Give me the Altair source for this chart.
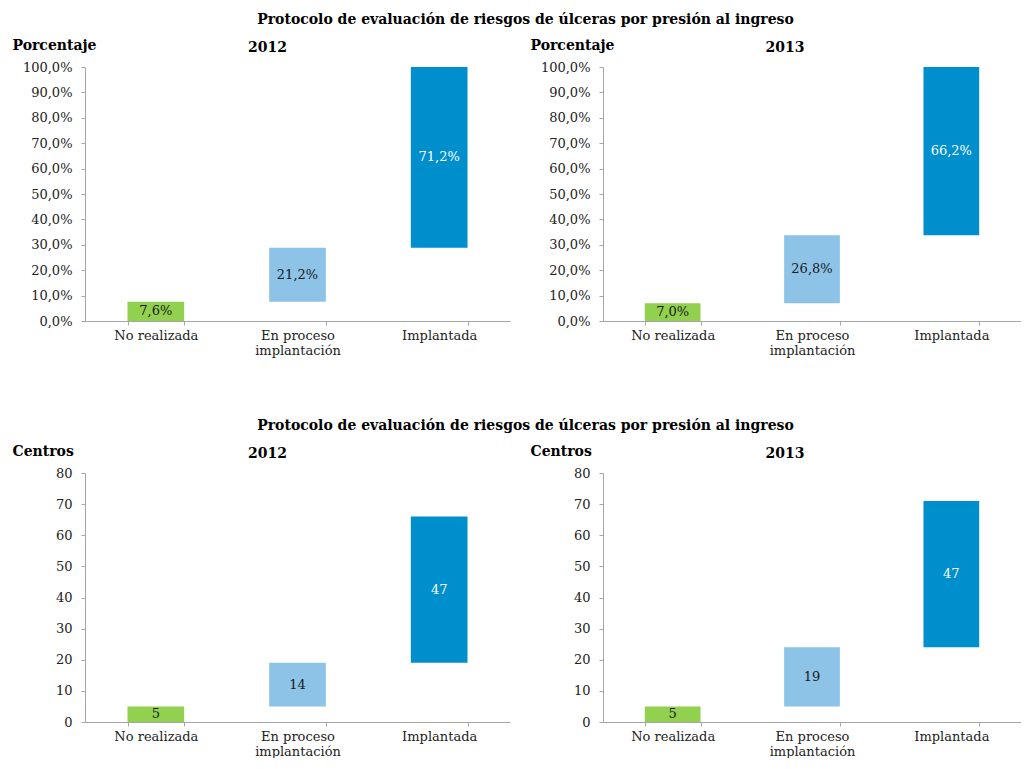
import altair as alt
import pandas as pd

categories = ["No realizada", "En proceso implantación", "Implantada"]
colors = ["#92d050", "#8cc3e7", "#008fcd"]
text_colors = ["#1a1a1a", "#1a1a1a", "#ffffff"]

pct_2012 = [7.6, 21.2, 71.2]
pct_2013 = [7.0, 26.8, 66.2]
n_2012 = [5, 14, 47]
n_2013 = [5, 19, 47]

FONT = "DejaVu Serif"
MAIN_TITLE = "Protocolo de evaluación de riesgos de úlceras por presión al ingreso"


def make_df(values, pct):
    rows = []
    start = 0.0
    for c, v, tc in zip(categories, values, text_colors):
        end = start + v
        lab = (f"{v:.1f}".replace(".", ",") + "%") if pct else str(v)
        rows.append({"cat": c, "start": start, "end": end, "mid": (start + end) / 2,
                     "label": lab, "tc": tc})
        start = end
    return pd.DataFrame(rows)


def panel(values, pct, year, ytitle, width, height, dx):
    df = make_df(values, pct)
    if pct:
        ymax, step = 100, 10
        lab_expr = "replace(format(datum.value, '.1f'), '.', ',') + '%'"
    else:
        ymax, step = 80, 10
        lab_expr = "format(datum.value, 'd')"
    xscale = alt.Scale(paddingInner=0.6, paddingOuter=0.3)
    yscale = alt.Scale(domain=[0, ymax], nice=False)
    xaxis = alt.Axis(
        labelAngle=0, labelFont=FONT, labelFontSize=13, labelColor="#222222",
        labelPadding=4, labelLineHeight=15,
        labelExpr="datum.label == 'En proceso implantación' ? ['En proceso', 'implantación'] : datum.label",
        tickBand="extent", tickSize=4, tickColor="#a6a6a6",
        domainColor="#a6a6a6", grid=False,
    )
    yaxis = alt.Axis(
        values=list(range(0, ymax + 1, step)), labelExpr=lab_expr, labelOverlap=False,
        labelFont=FONT, labelFontSize=13, labelColor="#222222", labelPadding=9,
        tickSize=4, tickColor="#a6a6a6", domainColor="#a6a6a6", grid=False,
        title=ytitle, titleAngle=0, titleAlign="left", titleBaseline="alphabetic",
        titleX=-73, titleY=-18, titleFont=FONT, titleFontSize=14,
        titleFontWeight="bold", titleColor="#000000",
    )
    base = alt.Chart(df)
    bars = base.mark_bar().encode(
        x=alt.X("cat:N", sort=categories, title=None, scale=xscale, axis=xaxis),
        y=alt.Y("start:Q", scale=yscale, axis=yaxis, title=ytitle),
        y2="end:Q",
        color=alt.Color("cat:N", scale=alt.Scale(domain=categories, range=colors), legend=None),
    )
    txt = base.mark_text(font=FONT, fontSize=13, baseline="middle").encode(
        x=alt.X("cat:N", sort=categories, title=None, scale=xscale, axis=xaxis),
        y=alt.Y("mid:Q", scale=yscale, axis=yaxis, title=ytitle),
        text="label:N",
        color=alt.Color("tc:N", scale=None),
    )
    return alt.layer(bars, txt).properties(
        width=width, height=height,
        title=alt.TitleParams(year, anchor="middle", dx=dx, offset=-17, font=FONT,
                              fontSize=14, fontWeight="bold", color="#000000"),
    )


def row(a, b):
    return alt.hconcat(a, b, spacing=20).properties(
        title=alt.TitleParams(MAIN_TITLE, anchor="middle", dx=9, font=FONT, fontSize=14,
                              fontWeight="bold", color="#000000", offset=11)
    )


top = row(panel(pct_2012, True, "2012", "Porcentaje", 425, 254, -30),
          panel(pct_2013, True, "2013", "Porcentaje", 418, 254, -27))
bottom = row(panel(n_2012, False, "2012", "Centros", 425, 249, -30),
             panel(n_2013, False, "2013", "Centros", 418, 249, -27))

chart = alt.vconcat(top, bottom, spacing=62).properties(
    padding={"left": 4, "top": 5, "right": 0, "bottom": 0}
).configure_view(stroke=None)

chart.save("out.html", embed_options={"renderer": "svg", "actions": False})
